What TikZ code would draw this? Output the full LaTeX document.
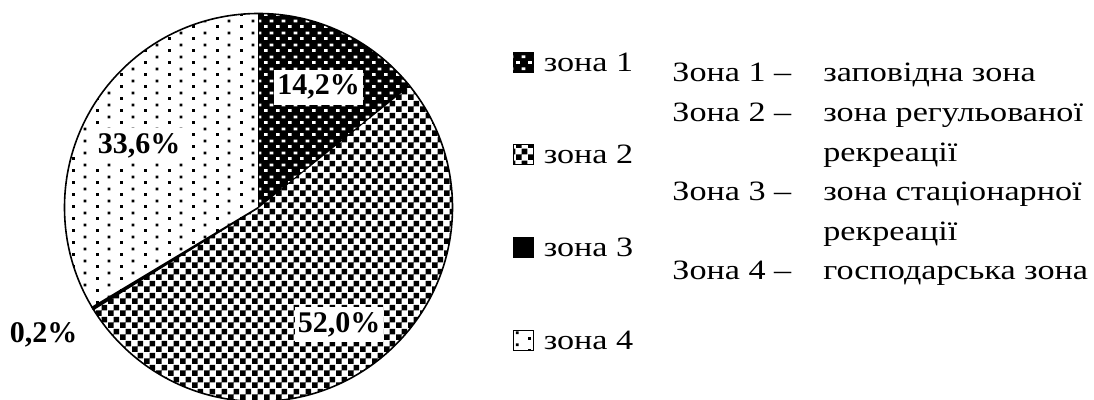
\documentclass[tikz,border=0pt]{standalone}
\usepackage{fontspec}
\setmainfont{Liberation Serif}[FakeStretch=1.22]
\newfontfamily\pctfont{Liberation Serif}
\usetikzlibrary{positioning,patterns}

\pgfdeclarepatternformonly{zdots}{\pgfpointorigin}{\pgfqpoint{6pt}{6pt}}{\pgfqpoint{6pt}{6pt}}{%
  \pgfpathrectangle{\pgfqpoint{0pt}{0pt}}{\pgfqpoint{2pt}{1.5pt}}%
  \pgfpathrectangle{\pgfqpoint{3pt}{3pt}}{\pgfqpoint{2pt}{1.5pt}}%
  \pgfusepath{fill}}
\pgfdeclarepatternformonly{zcheck}{\pgfpointorigin}{\pgfqpoint{6pt}{6pt}}{\pgfqpoint{6pt}{6pt}}{%
  \pgfpathrectangle{\pgfpointorigin}{\pgfqpoint{3pt}{3pt}}%
  \pgfpathrectangle{\pgfqpoint{3pt}{3pt}}{\pgfqpoint{3pt}{3pt}}%
  \pgfusepath{fill}}
\pgfdeclarepatternformonly{zsparse}{\pgfpointorigin}{\pgfqpoint{12pt}{6pt}}{\pgfqpoint{12pt}{6pt}}{%
  \pgfpathrectangle{\pgfqpoint{0pt}{0pt}}{\pgfqpoint{1.5pt}{1.5pt}}%
  \pgfpathrectangle{\pgfqpoint{6pt}{3pt}}{\pgfqpoint{1.5pt}{1.5pt}}%
  \pgfusepath{fill}}

\begin{document}
\begin{tikzpicture}[x=0.5pt, y=-0.5pt, node distance=36pt and 4pt,
    key/.style={draw, minimum size=10pt, inner sep=0pt},
    lbl/.style={inner sep=1pt, font=\fontsize{14}{17}\selectfont},
    pct/.style={fill=white, inner sep=1.5pt, text height=11pt, text depth=3.5pt, font=\fontsize{15}{18}\selectfont\pctfont\bfseries}]
	\useasboundingbox (0,0) rectangle (1094,400);

	% pie
	\begin{scope}[shift={(258.5,207.5)}, y=0.5pt]
		\fill[black] (0,0) -- (38.88:194) arc[start angle=38.88, end angle=90, radius=194] -- cycle;
		\fill[pattern=zdots, pattern color=white] (0,0) -- (38.88:194) arc[start angle=38.88, end angle=90, radius=194] -- cycle;
		\fill[pattern=zcheck] (0,0) -- (-148.32:194) arc[start angle=-148.32, end angle=38.88, radius=194] -- cycle;
		\fill[pattern=zsparse] (0,0) -- (90:194) arc[start angle=90, end angle=210.96, radius=194] -- cycle;
		\filldraw[black, line width=0.8pt] (0,0) -- (-149.04:194) arc[start angle=-149.04, end angle=-148.32, radius=194] -- cycle;
		\draw[line width=0.5pt] (0,0) -- (90:194) (0,0) -- (38.88:194);
		\draw[line width=0.8pt] (0,0) circle[radius=194];
	\end{scope}

	\node[pct] (p1) at (318.5,87.5) {14,2\%};
	\node[pct] (p2) at (339,325) {52,0\%};
	\node[pct] (p4) at (139,146) {33,6\%};
	\node[pct, fill=none] (p3) at (43.5,335) {0,2\%};

	% legend
	\node[key, fill=black, postaction={pattern=zdots, pattern color=white}] (k1) at (523,62) {};
	\node[key, pattern=zcheck, below=of k1] (k2) {};
	\node[key, fill=black, below=of k2] (k3) {};
	\node[key, pattern=zsparse, below=of k3] (k4) {};
	\node[lbl, right=of k1] (z1) {зона 1};
	\node[lbl, right=of k2] (z2) {зона 2};
	\node[lbl, right=of k3] (z3) {зона 3};
	\node[lbl, right=of k4] (z4) {зона 4};

	\node[anchor=base west, inner sep=0pt, font=\fontsize{14}{19.8}\selectfont] (desc) at (672,82) {%
		\begin{tabular}[t]{@{}p{75.5pt}@{}l@{}}
			Зона 1 – & заповідна зона\\
			Зона 2 – & зона регульованої\\
			 & рекреації\\
			Зона 3 – & зона стаціонарної\\
			 & рекреації\\
			Зона 4 – & господарська зона
		\end{tabular}};
\end{tikzpicture}
\end{document}
